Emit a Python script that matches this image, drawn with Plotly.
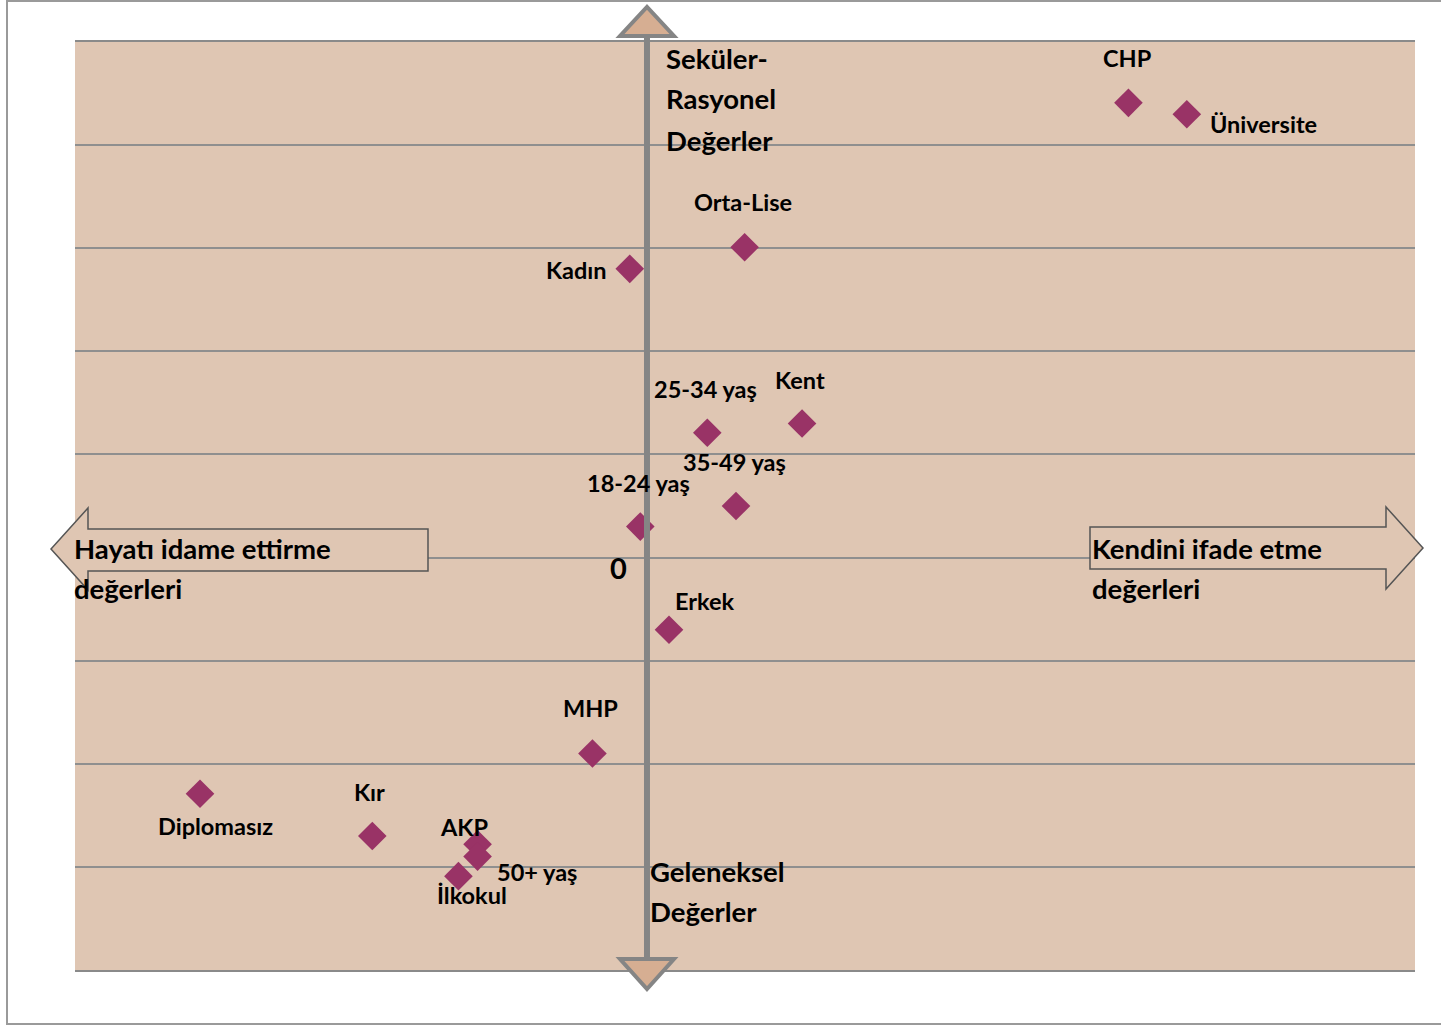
import plotly.graph_objects as go

# ---- data ----
groups = ["CHP", "Üniversite", "Orta-Lise", "Kadın", "Kent", "25-34 yaş", "35-49 yaş",
          "18-24 yaş", "Erkek", "MHP", "Diplomasız", "Kır", "AKP", "50+ yaş", "İlkokul"]
x_vals = [0.503, 0.564, 0.102, -0.018, 0.162, 0.063, 0.093,
          -0.007, 0.023, -0.057, -0.467, -0.287, -0.177, -0.177, -0.197]
y_vals = [0.441, 0.430, 0.301, 0.280, 0.130, 0.121, 0.050,
          0.030, -0.070, -0.190, -0.229, -0.270, -0.278, -0.290, -0.309]
# label offsets in pixels (dx, dy, anchor)
label_pos = [(-1, 45, "center"), (21, -10, "left"), (-2, 45, "center"), (-21, -1, "right"),
             (-2, 44, "center"), (-2, 44, "center"), (-2, 44, "center"), (-2, 44, "center"),
             (36, 29, "center"), (-2, 45, "center"), (15, -32, "center"), (-3, 44, "center"),
             (-14, 17, "center"), (17, -15, "left"), (14, -19, "center")]

W, H = 1441, 1026
L, R, T, B = 75, 1415, 42, 970
X0, X1 = -0.5976, 0.8024
Y0, Y1 = -0.4, 0.5

def px(x):
    return (x - L) / (R - L)

def py(y):
    return (B - y) / (B - T)

FONT = "Lato"
BG = "#DFC6B3"
GRAY = "#858585"

fig = go.Figure()
fig.add_trace(go.Scatter(
    x=x_vals, y=y_vals, mode="markers",
    marker=dict(symbol="diamond", size=22, color="#993366"),
    hoverinfo="text", text=groups, showlegend=False,
))

ann = []
for g, x, y, (dx, dy, anc) in zip(groups, x_vals, y_vals, label_pos):
    ann.append(dict(x=x, y=y, xref="x", yref="y", text=f"<b>{g}</b>", showarrow=False,
                    xshift=dx, yshift=dy, xanchor=anc, yanchor="middle",
                    font=dict(family=FONT, size=23.5, color="black")))

def text_line(t, x, y, anchor="left", size=27.5):
    ann.append(dict(x=px(x), y=py(y), xref="paper", yref="paper", text=f"<b>{t}</b>",
                    showarrow=False, xanchor=anchor, yanchor="middle",
                    font=dict(family=FONT, size=size, color="black")))

text_line("Seküler-", 664, 58)
text_line("Rasyonel", 664, 99)
text_line("Değerler", 664, 140)
text_line("Geleneksel", 648, 871)
text_line("Değerler", 648, 911)
text_line("Hayatı idame ettirme", 72, 548)
text_line("değerleri", 72, 588)
text_line("Kendini ifade etme", 1090, 548)
text_line("değerleri", 1090, 588)
text_line("0", 618, 567, anchor="center", size=29)

def path(points):
    s = "M " + " L ".join(f"{px(a):.5f},{py(b):.5f}" for a, b in points) + " Z"
    return s

shapes = []
# outer frame
shapes.append(dict(type="rect", xref="paper", yref="paper",
                   x0=px(7), x1=px(1450), y0=py(1024), y1=py(1),
                   line=dict(color="#9a9a9a", width=2), fillcolor="rgba(0,0,0,0)", layer="below"))
# horizontal arrows
shapes.append(dict(type="path", xref="paper", yref="paper",
                   path=path([(51, 549), (88, 508), (88, 529), (428, 529), (428, 571), (88, 571), (88, 590)]),
                   line=dict(color="#555555", width=1.5), fillcolor=BG))
shapes.append(dict(type="path", xref="paper", yref="paper",
                   path=path([(1090, 527), (1386, 527), (1386, 507), (1423, 548), (1386, 589), (1386, 569), (1090, 569)]),
                   line=dict(color="#555555", width=1.5), fillcolor=BG))
# vertical arrow
shapes.append(dict(type="line", xref="x", yref="paper", x0=0, x1=0, y0=py(962), y1=py(32),
                   line=dict(color=GRAY, width=6)))
hw = 27 / ((R - L) / (X1 - X0))
shapes.append(dict(type="path", xref="x", yref="paper",
                   path=f"M {-hw},{py(36)} L {hw},{py(36)} L 0,{py(7)} Z",
                   line=dict(color=GRAY, width=4), fillcolor="#D6AE92"))
shapes.append(dict(type="path", xref="x", yref="paper",
                   path=f"M {-hw},{py(959)} L {hw},{py(959)} L 0,{py(989)} Z",
                   line=dict(color=GRAY, width=4), fillcolor="#D6AE92"))

fig.update_layout(
    width=W, height=H,
    margin=dict(l=L, r=W - R, t=T, b=H - B),
    paper_bgcolor="white", plot_bgcolor=BG,
    xaxis=dict(range=[X0, X1], showgrid=False, zeroline=False, showticklabels=False,
               ticks="", showline=True, mirror=True, linecolor="#8a8a8a", linewidth=2, fixedrange=True),
    yaxis=dict(range=[Y0, Y1], dtick=0.1, tick0=0, showgrid=True, gridcolor="#8f8f8f", gridwidth=1.5,
               zeroline=True, zerolinecolor="#8f8f8f", zerolinewidth=1.5,
               showticklabels=False, ticks="", showline=False, fixedrange=True),
    annotations=ann, shapes=shapes,
)

fig.write_html("out.html", config={"displayModeBar": False},
               post_script="document.body.style.margin='0';")
